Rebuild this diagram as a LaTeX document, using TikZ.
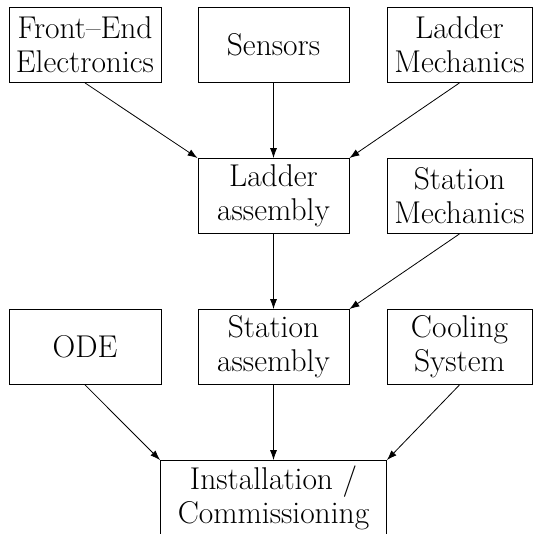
\documentclass[tikz,border=0pt]{standalone}
\usepackage{tikz}
\usetikzlibrary{arrows.meta}
\tikzset{edge/.style = {->,> = {Latex[length=10pt,width=7pt]}}}

\begin{document}
\begin{tikzpicture}[auto,node distance=151pt,line width=0.8pt,main node/.style={rectangle,draw,align=center,inner sep=0pt,minimum width=151pt,minimum height=75pt,font=\rmfamily\fontsize{31.5}{34}\selectfont}]
                \useasboundingbox (-273.5pt,45pt) rectangle (259.5pt,-489pt);
                \node[main node] (sens) at (0,0) {Sensors};
                \node[main node, minimum width=152pt] (fee) [left of=sens, node distance=188.5pt] {Front--End\\Electronics};
                \node[main node, minimum width=145pt] (lmech) [right of=sens, node distance=186pt] {Ladder\\Mechanics};
                \node[main node] (lass) [below of=sens] {Ladder\\assembly};
                \node[main node, minimum width=145pt] (smech) [right of=lass, node distance=186pt] {Station\\Mechanics};
                \node[main node] (sass) [below of=lass] {Station\\assembly};
                \node[main node, minimum width=152pt] (ode) [left of=sass, node distance=188.5pt] {ODE};
                \node[main node, minimum width=145pt] (cool) [right of=sass, node distance=186pt] {Cooling\\System};
                \node[main node, minimum width=226pt] (inst) [below of=sass] {Installation /\\Commissioning};

                \path[edge] (fee.south) edge[] node {} (lass.north west);
                \path[edge] (sens) edge[] node {} (lass);
                \path[edge] (lmech.south) edge[] node {} (lass.north east);
                \path[edge] (lass) edge[] node {} (sass);
                \path[edge] (smech.south) edge[] node {} (sass.north east);
                \path[edge] (ode.south) edge[] node {} (inst.north west);
                \path[edge] (sass) edge[] node {} (inst);
                \path[edge] (cool.south) edge[] node {} (inst.north east);
            \end{tikzpicture}
\end{document}
